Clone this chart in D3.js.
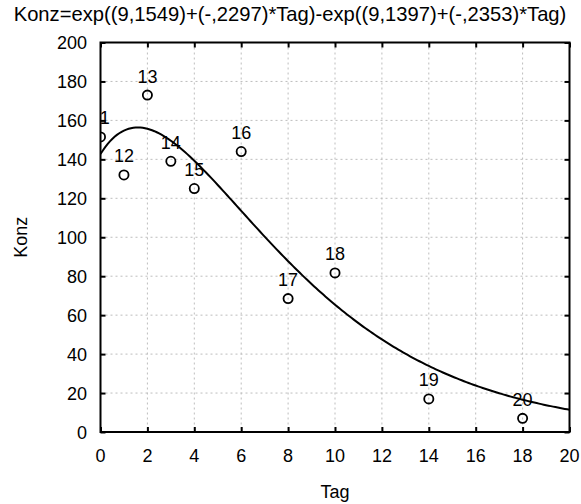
<!DOCTYPE html>
<html>
<head>
<meta charset="utf-8">
<script src="https://cdn.jsdelivr.net/npm/d3@7"></script>
<style>
  html, body { margin: 0; padding: 0; background: #fff; }
  svg { display: block; font-family: "Liberation Sans", Arial, sans-serif; }
</style>
</head>
<body>
<svg id="chart" width="581" height="504"></svg>
<script>
// ---- data ----
const caseLabels = ["11", "12", "13", "14", "15", "16", "17", "18", "19", "20"];
const tagValues  = [0, 1, 2, 3, 4, 6, 8, 10, 14, 18];
const konzValues = [151.5, 132, 173, 139, 125, 144, 68.5, 81.7, 17, 7];
const xTicks = [0, 2, 4, 6, 8, 10, 12, 14, 16, 18, 20];
const yTicks = [0, 20, 40, 60, 80, 100, 120, 140, 160, 180, 200];
// fitted model parameters from the title: exp(a1 + b1*Tag) - exp(a2 + b2*Tag)
const fitParams = [9.1549, -0.2297, 9.1397, -0.2353];
const titleText = "Konz=exp((9,1549)+(-,2297)*Tag)-exp((9,1397)+(-,2353)*Tag)";

// ---- layout ----
const svg = d3.select("#chart");
const pL = 100.5, pR = 569.5, pT = 42.5, pB = 432;
const x = d3.scaleLinear().domain([0, 20]).range([pL, pR]);
const y = d3.scaleLinear().domain([0, 200]).range([pB, pT]);

svg.append("defs").append("clipPath").attr("id", "plotClip")
  .append("rect").attr("x", pL).attr("y", pT)
  .attr("width", pR - pL).attr("height", pB - pT);

// grid
const grid = svg.append("g");
grid.selectAll("line.gx").data(xTicks.slice(1, -1)).enter().append("line")
  .attr("x1", d => x(d)).attr("x2", d => x(d)).attr("y1", pT).attr("y2", pB)
  .attr("stroke", "#bdbdbd").attr("stroke-width", 1).attr("stroke-dasharray", "2,3");
grid.selectAll("line.gy").data(yTicks.slice(1, -1)).enter().append("line")
  .attr("y1", d => y(d)).attr("y2", d => y(d)).attr("x1", pL).attr("x2", pR)
  .attr("stroke", "#bdbdbd").attr("stroke-width", 1).attr("stroke-dasharray", "2,3");

// axes (ticks inward on all sides)
const tickFont = 18;
const axB = svg.append("g").attr("transform", `translate(0,${pB})`)
  .call(d3.axisTop(x).tickValues(xTicks).tickSize(5).tickFormat(""));
const axT = svg.append("g").attr("transform", `translate(0,${pT})`)
  .call(d3.axisBottom(x).tickValues(xTicks).tickSize(5).tickFormat(""));
const axL = svg.append("g").attr("transform", `translate(${pL},0)`)
  .call(d3.axisRight(y).tickValues(yTicks).tickSize(5).tickFormat(""));
const axR = svg.append("g").attr("transform", `translate(${pR},0)`)
  .call(d3.axisLeft(y).tickValues(yTicks).tickSize(5).tickFormat(""));
[axB, axT, axL, axR].forEach(g => {
  g.select(".domain").remove();
  g.selectAll(".tick line").attr("stroke", "#000").attr("stroke-width", 2);
});

// tick labels
svg.append("g").selectAll("text").data(xTicks).enter().append("text")
  .attr("x", d => x(d)).attr("y", pB + 30)
  .attr("text-anchor", "middle").attr("font-size", tickFont).attr("fill", "#000")
  .text(d => d);
svg.append("g").selectAll("text").data(yTicks).enter().append("text")
  .attr("x", pL - 13.5).attr("y", d => y(d) + 6.5)
  .attr("text-anchor", "end").attr("font-size", tickFont).attr("fill", "#000")
  .text(d => d);

// curve
const curveX = d3.range(0, 20.001, 0.1);
const f = t => Math.exp(fitParams[0] + fitParams[1] * t) - Math.exp(fitParams[2] + fitParams[3] * t);
const plot = svg.append("g").attr("clip-path", "url(#plotClip)");
plot.append("path")
  .datum(curveX)
  .attr("d", d3.line().x(d => x(d)).y(d => y(f(d))))
  .attr("fill", "none").attr("stroke", "#000").attr("stroke-width", 2);

// points
const pts = tagValues.map((t, i) => ({ t, k: konzValues[i], lab: caseLabels[i] }));
plot.selectAll("circle").data(pts).enter().append("circle")
  .attr("cx", d => x(d.t)).attr("cy", d => y(d.k)).attr("r", 4.6)
  .attr("fill", "none").attr("stroke", "#000").attr("stroke-width", 1.8);
plot.selectAll("text.lab").data(pts).enter().append("text")
  .attr("x", d => x(d.t)).attr("y", d => y(d.k) - 12.5)
  .attr("text-anchor", "middle").attr("font-size", tickFont).attr("fill", "#000")
  .text(d => d.lab);

// frame
svg.append("rect").attr("x", pL).attr("y", pT)
  .attr("width", pR - pL).attr("height", pB - pT)
  .attr("fill", "none").attr("stroke", "#000").attr("stroke-width", 2);

// titles
svg.append("text").attr("x", 290).attr("y", 21).attr("text-anchor", "middle")
  .attr("font-size", 20.2).attr("fill", "#000").text(titleText);
svg.append("text").attr("x", (pL + pR) / 2).attr("y", 498).attr("text-anchor", "middle")
  .attr("font-size", 18).attr("fill", "#000").text("Tag");
svg.append("text").attr("transform", `translate(27,${(pT + pB) / 2}) rotate(-90)`)
  .attr("text-anchor", "middle").attr("font-size", 18).attr("fill", "#000").text("Konz");
</script>
</body>
</html>
